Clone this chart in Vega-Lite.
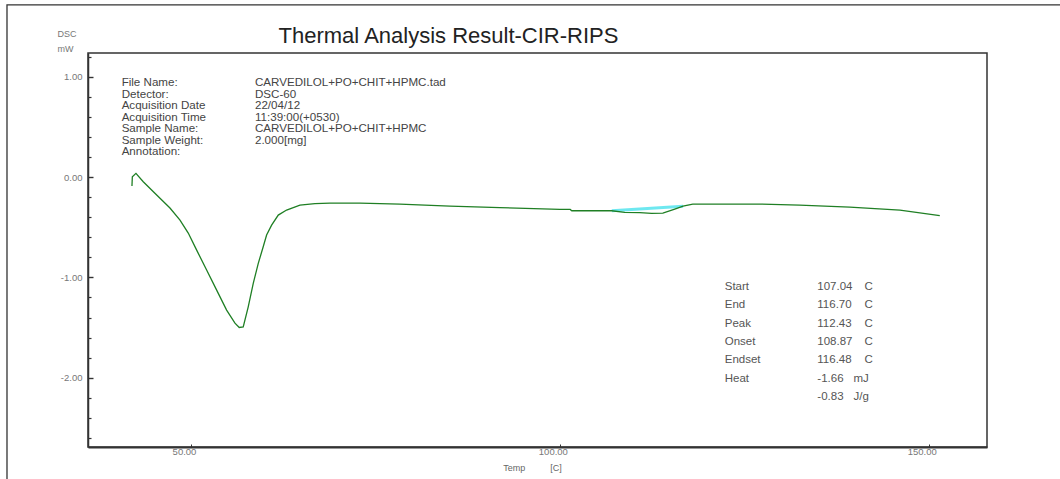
{
  "$schema": "https://vega.github.io/schema/vega-lite/v6.json",
  "width": 899,
  "height": 394,
  "autosize": {"type": "none"},
  "padding": {"left": 88, "top": 53, "right": 73, "bottom": 32},
  "background": "white",
  "config": {
    "font": "Liberation Sans",
    "view": {"stroke": "#333333", "strokeWidth": 1.5},
    "axis": {"grid": false}
  },
  "title": {
    "text": "Thermal Analysis Result-CIR-RIPS",
    "font": "Liberation Sans",
    "fontSize": 22,
    "fontWeight": "normal",
    "color": "#222222",
    "anchor": "middle",
    "frame": "group",
    "baseline": "alphabetic",
    "dx": -89,
    "dy": 61,
    "offset": 0
  },
  "datasets": {
    "dsc": [
      {"temp": 42.0, "dsc": -0.09},
      {"temp": 42.05, "dsc": 0.003},
      {"temp": 42.54, "dsc": 0.037},
      {"temp": 43.53, "dsc": -0.047},
      {"temp": 45.35, "dsc": -0.179},
      {"temp": 47.15, "dsc": -0.309},
      {"temp": 48.51, "dsc": -0.429},
      {"temp": 49.63, "dsc": -0.558},
      {"temp": 50.77, "dsc": -0.728},
      {"temp": 52.12, "dsc": -0.927},
      {"temp": 53.48, "dsc": -1.127},
      {"temp": 54.83, "dsc": -1.326},
      {"temp": 55.96, "dsc": -1.456},
      {"temp": 56.54, "dsc": -1.499},
      {"temp": 57.08, "dsc": -1.493},
      {"temp": 57.76, "dsc": -1.293},
      {"temp": 58.44, "dsc": -1.06},
      {"temp": 59.12, "dsc": -0.86},
      {"temp": 59.79, "dsc": -0.695},
      {"temp": 60.25, "dsc": -0.578},
      {"temp": 60.93, "dsc": -0.479},
      {"temp": 61.83, "dsc": -0.379},
      {"temp": 62.96, "dsc": -0.329},
      {"temp": 64.77, "dsc": -0.279},
      {"temp": 66.8, "dsc": -0.265},
      {"temp": 68.83, "dsc": -0.259},
      {"temp": 72.9, "dsc": -0.259},
      {"temp": 78.32, "dsc": -0.269},
      {"temp": 85.09, "dsc": -0.289},
      {"temp": 91.87, "dsc": -0.304},
      {"temp": 100.0, "dsc": -0.322},
      {"temp": 101.4, "dsc": -0.323},
      {"temp": 101.62, "dsc": -0.336},
      {"temp": 107.04, "dsc": -0.336},
      {"temp": 108.8, "dsc": -0.352},
      {"temp": 110.83, "dsc": -0.354},
      {"temp": 112.43, "dsc": -0.362},
      {"temp": 113.96, "dsc": -0.359},
      {"temp": 115.58, "dsc": -0.319},
      {"temp": 116.7, "dsc": -0.29},
      {"temp": 118.02, "dsc": -0.269},
      {"temp": 127.1, "dsc": -0.269},
      {"temp": 132.5, "dsc": -0.279},
      {"temp": 139.3, "dsc": -0.299},
      {"temp": 146.1, "dsc": -0.329},
      {"temp": 151.5, "dsc": -0.384}
    ],
    "baseline": [
      {"temp": 107.04, "dsc": -0.336},
      {"temp": 116.7, "dsc": -0.29}
    ],
    "info": [
      {"line": 0, "label": "File Name:", "value": "CARVEDILOL+PO+CHIT+HPMC.tad"},
      {"line": 1, "label": "Detector:", "value": "DSC-60"},
      {"line": 2, "label": "Acquisition Date", "value": "22/04/12"},
      {"line": 3, "label": "Acquisition Time", "value": "11:39:00(+0530)"},
      {"line": 4, "label": "Sample Name:", "value": "CARVEDILOL+PO+CHIT+HPMC"},
      {"line": 5, "label": "Sample Weight:", "value": "2.000[mg]"},
      {"line": 6, "label": "Annotation:", "value": ""}
    ],
    "stats": [
      {"line": 0, "label": "Start", "value": "107.04", "unit": "C"},
      {"line": 1, "label": "End", "value": "116.70", "unit": "C"},
      {"line": 2, "label": "Peak", "value": "112.43", "unit": "C"},
      {"line": 3, "label": "Onset", "value": "108.87", "unit": "C"},
      {"line": 4, "label": "Endset", "value": "116.48", "unit": "C"},
      {"line": 5, "label": "Heat", "value": "-1.66", "unit": "mJ"},
      {"line": 6, "label": "", "value": "-0.83", "unit": "J/g"}
    ]
  },
  "layer": [
    {
      "data": {"values": [{}]},
      "mark": {"type": "rect", "fill": null, "stroke": "#333333", "strokeWidth": 1.3, "clip": false},
      "encoding": {
        "x": {"datum": 25.06, "type": "quantitative", "scale": {"domain": [36.04, 157.9], "nice": false, "zero": false}},
        "x2": {"datum": 170},
        "y": {"datum": 1.715, "type": "quantitative", "scale": {"domain": [-2.69, 1.236], "nice": false, "zero": false}, "axis": null},
        "y2": {"datum": -3.2}
      }
    },
    {
      "layer": [
        {
          "data": {"name": "baseline"},
          "mark": {"type": "line", "color": "#5ee6ee", "strokeWidth": 3, "opacity": 0.9},
          "encoding": {
            "x": {"field": "temp", "type": "quantitative", "scale": {"domain": [36.04, 157.9], "nice": false, "zero": false}},
            "y": {
              "field": "dsc", "type": "quantitative",
              "scale": {"domain": [-2.69, 1.236], "nice": false, "zero": false},
              "axis": {
                "orient": "left",
                "values": [1.2, 0.8, 0.6, 0.4, 0.2, -0.2, -0.4, -0.6, -0.8, -1.2, -1.4, -1.6, -1.8, -2.2, -2.4, -2.6],
                "labels": false,
                "domain": false,
                "tickSize": -3,
                "tickColor": "#333333",
                "tickWidth": 1.2,
                "title": null
              }
            }
          }
        },
        {
          "data": {"name": "dsc"},
          "mark": {"type": "line", "color": "#1f7f24", "strokeWidth": 1.3},
          "encoding": {
            "x": {
              "field": "temp", "type": "quantitative",
              "scale": {"domain": [36.04, 157.9], "nice": false, "zero": false},
              "axis": {
                "values": [50, 100, 150],
                "labelExpr": "format(datum.value, '.2f')",
                "labelFont": "Liberation Sans",
                "labelFontSize": 9.5,
                "labelColor": "#777777",
                "labelOffset": -7,
                "labelPadding": 2,
                "tickSize": -3,
                "tickColor": "#333333",
                "domainColor": "#333333",
                "domainWidth": 2.2,
                "title": "Temp\u00a0\u00a0\u00a0\u00a0\u00a0\u00a0\u00a0\u00a0\u00a0\u00a0[C]",
                "titleFont": "Liberation Sans",
                "titleFontSize": 9,
                "titleFontWeight": "normal",
                "titleColor": "#666666",
                "titleX": 444,
                "titleY": 20,
                "titleAlign": "center",
                "titleBaseline": "middle"
              }
            },
            "y": {
              "field": "dsc", "type": "quantitative",
              "scale": {"domain": [-2.69, 1.236], "nice": false, "zero": false},
              "axis": {
                "orient": "left",
                "values": [1, 0, -1, -2],
                "labelExpr": "replace(format(datum.value, '.2f'), '\u2212', '-')",
                "labelFont": "Liberation Sans",
                "labelFontSize": 9.5,
                "labelColor": "#777777",
                "labelPadding": 11,
                "tickSize": -5,
                "tickWidth": 1.4,
                "tickColor": "#333333",
                "domainColor": "#333333",
                "domainWidth": 1.5,
                "title": ["DSC", "mW"],
                "titleFont": "Liberation Sans",
                "titleFontSize": 9,
                "titleFontWeight": "normal",
                "titleColor": "#777777",
                "titleAngle": 0,
                "titleAlign": "left",
                "titleBaseline": "alphabetic",
                "titleLineHeight": 15,
                "titleX": -31,
                "titleY": -17
              }
            }
          }
        }
      ],
      "resolve": {"axis": {"y": "independent"}}
    },
    {
      "data": {"name": "info"},
      "mark": {"type": "text", "align": "left", "baseline": "middle", "fontSize": 11.6, "color": "#444444"},
      "encoding": {
        "x": {"datum": 40.6, "type": "quantitative"},
        "y": {"field": "line", "type": "ordinal", "scale": {"type": "point", "domain": [0, 1, 2, 3, 4, 5, 6], "range": [30, 99], "padding": 0}, "axis": null},
        "text": {"field": "label"}
      }
    },
    {
      "data": {"name": "info"},
      "mark": {"type": "text", "align": "left", "baseline": "middle", "fontSize": 11.6, "color": "#444444"},
      "encoding": {
        "x": {"datum": 58.67, "type": "quantitative"},
        "y": {"field": "line", "type": "ordinal", "scale": {"type": "point", "domain": [0, 1, 2, 3, 4, 5, 6], "range": [30, 99], "padding": 0}, "axis": null},
        "text": {"field": "value"}
      }
    },
    {
      "data": {"name": "stats"},
      "mark": {"type": "text", "align": "left", "baseline": "middle", "fontSize": 11.5, "color": "#555555"},
      "encoding": {
        "x": {"datum": 122.35, "type": "quantitative"},
        "y": {"field": "line", "type": "ordinal", "scale": {"type": "point", "domain": [0, 1, 2, 3, 4, 5, 6], "range": [234, 344], "padding": 0}, "axis": null},
        "text": {"field": "label"}
      }
    },
    {
      "data": {"name": "stats"},
      "mark": {"type": "text", "align": "left", "baseline": "middle", "fontSize": 11.5, "color": "#555555"},
      "encoding": {
        "x": {"datum": 134.9, "type": "quantitative"},
        "y": {"field": "line", "type": "ordinal", "scale": {"type": "point", "domain": [0, 1, 2, 3, 4, 5, 6], "range": [234, 344], "padding": 0}, "axis": null},
        "text": {"field": "value"}
      }
    },
    {
      "data": {"name": "stats"},
      "transform": [{"filter": "datum.unit === 'C'"}],
      "mark": {"type": "text", "align": "left", "baseline": "middle", "fontSize": 11.5, "color": "#555555"},
      "encoding": {
        "x": {"datum": 141.3, "type": "quantitative"},
        "y": {"field": "line", "type": "ordinal", "scale": {"type": "point", "domain": [0, 1, 2, 3, 4, 5, 6], "range": [234, 344], "padding": 0}, "axis": null},
        "text": {"field": "unit"}
      }
    },
    {
      "data": {"name": "stats"},
      "transform": [{"filter": "datum.unit !== 'C'"}],
      "mark": {"type": "text", "align": "left", "baseline": "middle", "fontSize": 11.5, "color": "#555555"},
      "encoding": {
        "x": {"datum": 139.8, "type": "quantitative"},
        "y": {"field": "line", "type": "ordinal", "scale": {"type": "point", "domain": [0, 1, 2, 3, 4, 5, 6], "range": [234, 344], "padding": 0}, "axis": null},
        "text": {"field": "unit"}
      }
    }
  ],
  "resolve": {"scale": {"y": "independent"}}
}
